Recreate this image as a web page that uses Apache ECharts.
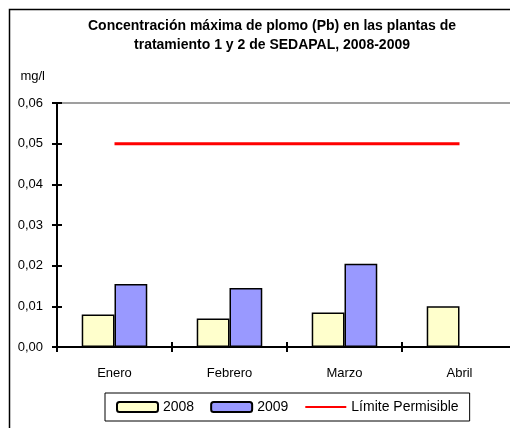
<!DOCTYPE html>
<html>
<head>
<meta charset="utf-8">
<script src="https://cdn.jsdelivr.net/npm/echarts@6/dist/echarts.min.js"></script>
<style>
  html, body { margin: 0; padding: 0; background: #fff; overflow: hidden; }
  #chart { width: 520px; height: 428px; }
</style>
</head>
<body>
<div id="chart"></div>
<script>
// datos
const meses = ['Enero', 'Febrero', 'Marzo', 'Abril'];
const valores2008 = [0.0080, 0.0070, 0.0085, 0.0100];
const valores2009 = [0.0155, 0.0145, 0.0205, null];
const limitePermisible = [0.05, 0.05, 0.05, 0.05];
const yTicks = { min: 0, max: 0.06, interval: 0.01 };

const fuente = 'Liberation Sans, Arial, sans-serif';
// el marco del gráfico original queda cortado por la derecha
const chart = echarts.init(document.getElementById('chart'));

const option = {
  animation: false,
  textStyle: { fontFamily: fuente },
  title: {
    text: 'Concentración máxima de plomo (Pb) en las plantas de\ntratamiento 1 y 2 de SEDAPAL, 2008-2009',
    left: 267,
    textAlign: 'center',
    top: 12,
    textStyle: { fontSize: 14, fontWeight: 'bold', color: '#000', lineHeight: 19, fontFamily: fuente }
  },
  graphic: [{
    type: 'rect',
    shape: { x: 9.5, y: 9.5, width: 600, height: 600 },
    style: { fill: 'none', stroke: '#000', lineWidth: 1.5 },
    silent: true
  }],
  grid: {
    left: 57, top: 103, right: 3, bottom: 81,
    show: true, borderColor: '#808080', borderWidth: 1.5
  },
  legend: {
    left: 105, top: 393,
    padding: [7, 11],
    itemWidth: 41, itemHeight: 10, itemGap: 16,
    borderColor: '#000', borderWidth: 1,
    textStyle: { fontSize: 14, color: '#000', fontFamily: fuente },
    data: ['2008', '2009', 'Límite Permisible']
  },
  xAxis: [{
    type: 'category',
    data: meses,
    axisLine: { lineStyle: { color: '#000', width: 2 } },
    axisTick: { show: true, interval: 0, length: 5, lineStyle: { color: '#000', width: 2 } },
    axisLabel: { fontSize: 13, color: '#000', margin: 20 }
  }, {
    type: 'category',
    data: meses,
    position: 'bottom',
    axisLine: { show: false },
    axisTick: { show: true, inside: true, interval: 0, length: 5, lineStyle: { color: '#000', width: 2 } },
    axisLabel: { show: false }
  }],
  yAxis: [{
    type: 'value',
    min: yTicks.min, max: yTicks.max, interval: yTicks.interval,
    name: 'mg/l',
    nameLocation: 'end',
    nameGap: 27,
    nameTextStyle: { fontSize: 13, color: '#000', align: 'right', verticalAlign: 'middle', padding: [0, 12, 0, 0] },
    axisLine: { show: true, lineStyle: { color: '#000', width: 2 } },
    axisTick: { show: true, length: 5, lineStyle: { color: '#000', width: 2 } },
    axisLabel: {
      fontSize: 13, color: '#000', margin: 14,
      formatter: v => v.toFixed(2).replace('.', ',')
    },
    splitLine: { show: false }
  }, {
    type: 'value',
    position: 'left',
    min: yTicks.min, max: yTicks.max, interval: yTicks.interval,
    axisLine: { show: false },
    axisTick: { show: true, inside: true, length: 5, lineStyle: { color: '#000', width: 2 } },
    axisLabel: { show: false },
    splitLine: { show: false }
  }],
  series: [{
    name: '2008',
    type: 'bar',
    data: valores2008,
    barGap: '0%',
    barCategoryGap: '43%',
    itemStyle: { color: '#FFFFCC', borderColor: '#000', borderWidth: 1.5 }
  }, {
    name: '2009',
    type: 'bar',
    data: valores2009,
    itemStyle: { color: '#9999FF', borderColor: '#000', borderWidth: 1.5 }
  }, {
    name: 'Límite Permisible',
    type: 'line',
    data: limitePermisible,
    symbol: 'none',
    lineStyle: { color: '#FF0000', width: 3 },
    itemStyle: { color: 'rgba(0,0,0,0)' }
  }]
};

chart.setOption(option);
</script>
</body>
</html>
